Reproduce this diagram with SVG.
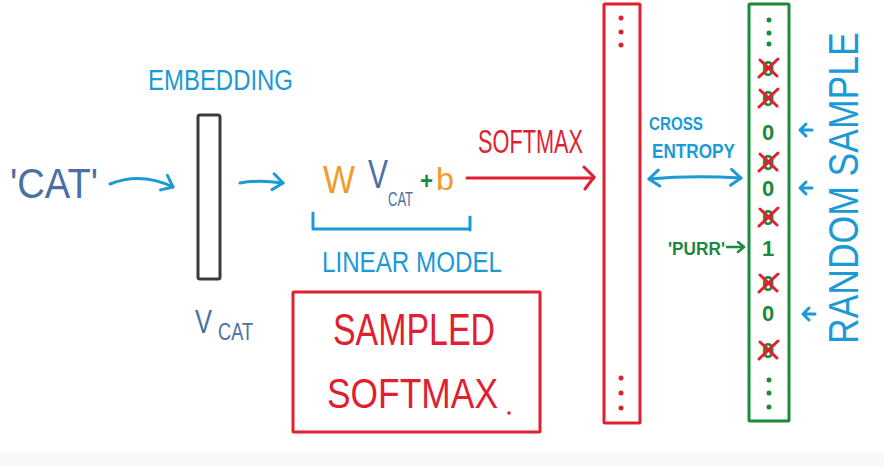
<svg xmlns="http://www.w3.org/2000/svg" width="884" height="466" viewBox="0 0 884 466">
<defs>
<style>
text{font-family:"Liberation Sans","DejaVu Sans",sans-serif;}
.blue{fill:#1b9ad6}
.steel{fill:#4a6fa5}
.red{fill:#e01f30}
.green{fill:#1a8a3c}
.orange{fill:#f39a2b}
.cb{fill:none;stroke:#1b9ad6;stroke-width:3;stroke-linecap:round;stroke-linejoin:round}
.cr{fill:none;stroke:#e01f30;stroke-width:3;stroke-linecap:round;stroke-linejoin:round}
.cg{fill:none;stroke:#1a8a3c;stroke-width:2.5;stroke-linecap:round;stroke-linejoin:round}
.xm{stroke:#e01f30;stroke-width:3;stroke-linecap:round}
.digit{font-size:22px;text-anchor:middle;fill:#1a8a3c;font-weight:bold}
</style>
<marker id="ahBlue" viewBox="0 0 14 20" refX="12" refY="10" markerWidth="14" markerHeight="20" markerUnits="userSpaceOnUse" orient="auto-start-reverse">
<path d="M2,2 L12,10 L2,18" fill="none" stroke="#1b9ad6" stroke-width="3" stroke-linecap="round" stroke-linejoin="round"/>
</marker>
<marker id="ahRed" viewBox="0 0 16 26" refX="13" refY="13" markerWidth="16" markerHeight="26" markerUnits="userSpaceOnUse" orient="auto">
<path d="M3,2 L13,12 L4,24" fill="none" stroke="#e01f30" stroke-width="3" stroke-linecap="round" stroke-linejoin="round"/>
</marker>
<marker id="ahGreen" viewBox="0 0 10 12" refX="8" refY="6" markerWidth="10" markerHeight="12" markerUnits="userSpaceOnUse" orient="auto">
<path d="M2,1 L8,6 L2,11" fill="none" stroke="#1a8a3c" stroke-width="2.5" stroke-linecap="round" stroke-linejoin="round"/>
</marker>
<g id="xzero">
<text class="digit" x="0" y="8">0</text>
<line class="xm" x1="-9" y1="9" x2="10" y2="-9"/>
<line class="xm" x1="-8" y1="-8" x2="9" y2="8"/>
</g>
</defs>
<rect x="0" y="0" width="884" height="466" fill="#ffffff"/>
<rect x="0" y="452" width="884" height="14" fill="#f7f8fa"/>

<g id="input-cat">
<text class="steel" x="10" y="198" font-size="42" textLength="88" lengthAdjust="spacingAndGlyphs">'CAT'</text>
</g>

<g id="embedding">
<text class="blue" x="148" y="90" font-size="30" textLength="145" lengthAdjust="spacingAndGlyphs">EMBEDDING</text>
<rect x="198" y="115" width="22" height="164" rx="2" fill="#ffffff" stroke="#3a3a3a" stroke-width="3"/>
<text class="steel" x="195" y="333" font-size="34" textLength="17" lengthAdjust="spacingAndGlyphs">V</text>
<text class="steel" x="218" y="340" font-size="24" textLength="35" lengthAdjust="spacingAndGlyphs">CAT</text>
</g>

<g id="linear-model">
<text class="orange" x="323" y="193" font-size="39" textLength="32" lengthAdjust="spacingAndGlyphs">W</text>
<text class="steel" x="368" y="188" font-size="40" textLength="20" lengthAdjust="spacingAndGlyphs">V</text>
<text class="steel" transform="translate(388,206) scale(0.65,1)" x="0" y="0" font-size="20">CAT</text>
<text class="green" x="420" y="189" font-size="24" font-weight="bold" textLength="13" lengthAdjust="spacingAndGlyphs">+</text>
<text class="orange" x="436" y="190" font-size="32" textLength="18" lengthAdjust="spacingAndGlyphs">b</text>
<path class="cb" d="M313,213 V229 H470 M470,217 V230"/>
<text class="blue" x="322" y="272" font-size="30" textLength="180" lengthAdjust="spacingAndGlyphs">LINEAR MODEL</text>
</g>

<g id="softmax-label">
<text class="red" x="478" y="153" font-size="33" textLength="105" lengthAdjust="spacingAndGlyphs">SOFTMAX</text>
</g>

<g id="sampled-softmax">
<rect x="293" y="292" width="247" height="140" fill="none" stroke="#e01f30" stroke-width="3" rx="1"/>
<text class="red" x="333" y="345" font-size="44" textLength="162" lengthAdjust="spacingAndGlyphs">SAMPLED</text>
<text class="red" x="327" y="408" font-size="43" textLength="171" lengthAdjust="spacingAndGlyphs">SOFTMAX</text>
<circle cx="509" cy="413" r="1.8" fill="#e01f30"/>
</g>

<g id="softmax-output">
<rect x="604" y="4" width="36" height="419" rx="1" fill="none" stroke="#e01f30" stroke-width="3"/>
<g fill="#e01f30">
<circle cx="621" cy="18" r="2.5"/><circle cx="621" cy="32" r="2.5"/><circle cx="621" cy="45" r="2.5"/>
<circle cx="621" cy="378" r="2.5"/><circle cx="621" cy="393" r="2.5"/><circle cx="621" cy="408" r="2.5"/>
</g>
</g>

<g id="cross-entropy-label">
<text class="blue" x="649" y="130" font-size="18" font-weight="bold" textLength="54" lengthAdjust="spacingAndGlyphs">CROSS</text>
<text class="blue" x="652" y="158" font-size="21" font-weight="bold" textLength="83" lengthAdjust="spacingAndGlyphs">ENTROPY</text>
</g>

<g id="target-vector">
<rect x="749" y="4" width="40" height="417" rx="1" fill="none" stroke="#1a8a3c" stroke-width="3"/>
<g fill="#1a8a3c">
<circle cx="769" cy="20" r="2.5"/><circle cx="769" cy="33" r="2.5"/><circle cx="769" cy="44" r="2.5"/>
<circle cx="769" cy="380" r="2.5"/><circle cx="769" cy="393" r="2.5"/><circle cx="769" cy="407" r="2.5"/>
</g>
<use href="#xzero" x="768" y="68"/>
<use href="#xzero" x="768" y="98"/>
<text class="digit" x="768" y="140">0</text>
<use href="#xzero" x="768" y="162"/>
<text class="digit" x="768" y="196">0</text>
<use href="#xzero" x="768" y="217"/>
<text class="digit" x="768" y="256">1</text>
<use href="#xzero" x="768" y="283"/>
<text class="digit" x="768" y="321" font-size="17">0</text>
<use href="#xzero" x="768" y="350"/>
</g>

<g id="purr-label">
<text class="green" x="668" y="255" font-size="19" font-weight="bold" textLength="57" lengthAdjust="spacingAndGlyphs">'PURR'</text>
<path class="cg" d="M727,247 H744" marker-end="url(#ahGreen)"/>
</g>

<g id="random-sample">
<text class="blue" transform="translate(858,344) rotate(-90) scale(1,1.18)" x="0" y="0" font-size="35.5">RANDOM SAMPLE</text>
<path class="cb" d="M812,130 H801 M806,124 L800,130 L806,136"/>
<path class="cb" d="M812,188 H801 M806,182 L800,188 L806,194"/>
<path class="cb" d="M815,314 H804 M809,308 L803,314 L809,320"/>
</g>

<g id="connectors">
<path class="cb" d="M110,184 C130,176 150,176 173,187" marker-end="url(#ahBlue)"/>
<path class="cb" d="M240,183 C255,180 268,181 283,183" marker-end="url(#ahBlue)"/>
<path class="cr" d="M467,178 H594" marker-end="url(#ahRed)"/>
<path class="cb" d="M649,179 C680,176 710,176 741,178" marker-start="url(#ahBlue)" marker-end="url(#ahBlue)"/>
</g>
</svg>
